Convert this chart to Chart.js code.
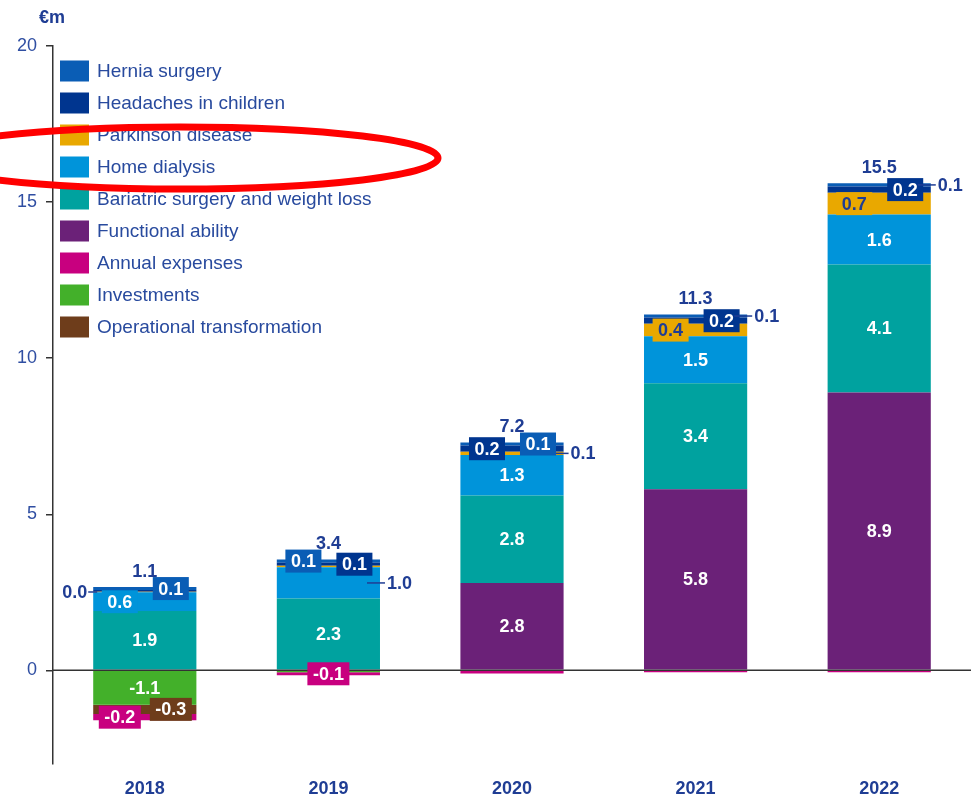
<!DOCTYPE html>
<html>
<head>
<meta charset="utf-8">
<script src="https://cdn.jsdelivr.net/npm/chart.js@4/dist/chart.umd.min.js"></script>
<style>
    html, body { margin: 0; padding: 0; background: #ffffff; }
    #chart { display: block; }
</style>
</head>
<body>
<canvas id="chart" width="971" height="796"></canvas>
<script>
// values in €m
const years = ['2018', '2019', '2020', '2021', '2022']
const hernia = [0.1, 0.1, 0.1, 0.1, 0.1]
const headaches = [0.05, 0.1, 0.2, 0.2, 0.2]
const parkinson = [0.02, 0.05, 0.1, 0.4, 0.7]
const homeDialysis = [0.6, 1.0, 1.3, 1.5, 1.6]
const bariatric = [1.9, 2.3, 2.8, 3.4, 4.1]
const functionalAbility = [0, 0, 2.8, 5.8, 8.9]
const annualExpenses = [-0.2, -0.1, -0.08, -0.06, -0.06]
const investments = [-1.1, -0.06, 0, 0, 0]
const operational = [-0.3, 0, -0.02, 0, 0]
const totals = [1.1, 3.4, 7.2, 11.3, 15.5]
const yTicks = [0, 5, 10, 15, 20]

const fontFamily = '"Liberation Sans", Arial, sans-serif'
const navy = '#1f3d94'
const tickBlue = '#2f4ea2'

// stacking order bottom -> top (positives), then negatives downwards
const series = [
    { key: 'functional', label: 'Functional ability', data: functionalAbility, color: '#6b2178' },
    { key: 'bariatric', label: 'Bariatric surgery and weight loss', data: bariatric, color: '#00a29f' },
    { key: 'homeDialysis', label: 'Home dialysis', data: homeDialysis, color: '#0094da' },
    { key: 'parkinson', label: 'Parkinson disease', data: parkinson, color: '#e9a800' },
    { key: 'headaches', label: 'Headaches in children', data: headaches, color: '#00358f' },
    { key: 'hernia', label: 'Hernia surgery', data: hernia, color: '#0a5db5' },
    { key: 'investments', label: 'Investments', data: investments, color: '#43b02a' },
    { key: 'operational', label: 'Operational transformation', data: operational, color: '#6e3d1b' },
    { key: 'annual', label: 'Annual expenses', data: annualExpenses, color: '#c8007f' },
]
const legendOrder = ['hernia', 'headaches', 'parkinson', 'homeDialysis', 'bariatric',
    'functional', 'annual', 'investments', 'operational']

// where each value label sits
const labelModes = {
    hernia: ['boxR', 'boxL', 'boxR', 'outR', 'outR'],
    headaches: [null, 'boxR', 'boxL', 'boxR', 'boxR'],
    parkinson: ['outL', null, 'outR', 'boxL', 'boxL'],
    homeDialysis: ['boxL', 'outR', 'in', 'in', 'in'],
    bariatric: ['in', 'in', 'in', 'in', 'in'],
    functional: [null, null, 'in', 'in', 'in'],
    investments: ['in', null, null, null, null],
    operational: ['boxR', null, null, null, null],
    annual: ['boxL', 'box', null, null, null],
}
const darkInk = ['parkinson']

const segmentLabels = {
    id: 'segmentLabels',
    afterDatasetsDraw(chart) {
        const ctx = chart.ctx
        const area = chart.chartArea
        const yScale = chart.scales.y
        ctx.save()

        // zero line sits over the bars
        const zeroY = yScale.getPixelForValue(0)
        ctx.strokeStyle = '#333333'
        ctx.lineWidth = 1.5
        ctx.beginPath()
        ctx.moveTo(area.left, zeroY)
        ctx.lineTo(area.right, zeroY)
        ctx.stroke()

        ctx.font = `bold 18px ${fontFamily}`
        ctx.textBaseline = 'middle'
        chart.data.datasets.forEach((ds, i) => {
            const meta = chart.getDatasetMeta(i)
            const modes = labelModes[ds.key]
            meta.data.forEach((bar, j) => {
                const mode = modes[j]
                if (!mode) return
                const { x, y, base, width } = bar.getProps(['x', 'y', 'base', 'width'], true)
                const cy = (y + base) / 2
                const left = x - width / 2
                const right = x + width / 2
                const text = ds.data[j].toFixed(1)
                const ink = darkInk.includes(ds.key) ? navy : '#ffffff'
                if (mode === 'in') {
                    ctx.fillStyle = ink
                    ctx.textAlign = 'center'
                    ctx.fillText(text, x, cy + 1)
                } else if (mode.startsWith('box')) {
                    const bx = mode === 'boxL' ? x - 25 : mode === 'boxR' ? x + 26 : x
                    const w = ctx.measureText(text).width + 11
                    ctx.fillStyle = ds.backgroundColor
                    ctx.fillRect(bx - w / 2, cy - 11.5, w, 23)
                    ctx.fillStyle = ink
                    ctx.textAlign = 'center'
                    ctx.fillText(text, bx, cy + 1)
                } else if (mode === 'outR') {
                    ctx.strokeStyle = navy
                    ctx.lineWidth = 1.5
                    ctx.beginPath()
                    ctx.moveTo(right - 13, cy)
                    ctx.lineTo(right + 5, cy)
                    ctx.stroke()
                    ctx.fillStyle = navy
                    ctx.textAlign = 'left'
                    ctx.fillText(text, right + 7, cy + 1)
                } else if (mode === 'outL') {
                    ctx.strokeStyle = navy
                    ctx.lineWidth = 1.5
                    ctx.beginPath()
                    ctx.moveTo(left - 5, cy)
                    ctx.lineTo(left + 4, cy)
                    ctx.stroke()
                    ctx.fillStyle = navy
                    ctx.textAlign = 'right'
                    ctx.fillText(text, left - 6, cy + 1)
                }
            })
        })

        // totals above each stack
        const meta0 = chart.getDatasetMeta(0)
        totals.forEach((total, j) => {
            let positive = 0
            chart.data.datasets.forEach(ds => { if (ds.data[j] > 0) positive += ds.data[j] })
            const top = yScale.getPixelForValue(positive)
            ctx.fillStyle = navy
            ctx.textAlign = 'center'
            ctx.fillText(total.toFixed(1), meta0.data[j].x, top - 15)
        })
        ctx.restore()
    },
    afterDraw(chart) {
        const ctx = chart.ctx
        const area = chart.chartArea
        ctx.save()

        // unit
        ctx.fillStyle = navy
        ctx.font = `bold 18px ${fontFamily}`
        ctx.textAlign = 'center'
        ctx.textBaseline = 'middle'
        ctx.fillText('€m', area.left - 1, area.top - 28)

        // legend
        ctx.font = `19px ${fontFamily}`
        ctx.textAlign = 'left'
        legendOrder.forEach((key, k) => {
            const ds = chart.data.datasets.find(d => d.key === key)
            const cy = area.top + 25 + k * 32
            ctx.fillStyle = ds.backgroundColor
            ctx.fillRect(area.left + 7, cy - 10.5, 29, 21)
            ctx.fillStyle = '#284a9e'
            ctx.fillText(ds.label, area.left + 44, cy + 1)
        })

        // red highlight ring
        ctx.strokeStyle = '#ff0000'
        ctx.lineWidth = 7
        ctx.beginPath()
        ctx.ellipse(180, 158, 258, 31, 0, 0, Math.PI * 2)
        ctx.stroke()
        ctx.restore()
    }
}

new Chart(document.getElementById('chart'), {
    type: 'bar',
    data: {
        labels: years,
        datasets: series.map(s => ({
            key: s.key,
            label: s.label,
            data: s.data,
            backgroundColor: s.color,
            borderWidth: 0,
            barPercentage: 0.562,
            categoryPercentage: 1,
        })),
    },
    options: {
        responsive: false,
        animation: false,
        layout: { padding: { top: 46, right: -7, bottom: 0, left: 0 } },
        plugins: {
            legend: { display: false },
            tooltip: { enabled: false },
        },
        scales: {
            x: {
                stacked: true,
                grid: { display: false },
                border: { display: false },
                ticks: {
                    color: navy,
                    font: { family: fontFamily, size: 18, weight: 'bold' },
                    padding: 6,
                },
                afterFit: scale => { scale.height = 32 },
            },
            y: {
                stacked: true,
                min: -3,
                max: 20,
                ticks: {
                    stepSize: 5,
                    color: tickBlue,
                    font: { family: fontFamily, size: 18 },
                    padding: 9,
                },
                grid: {
                    drawOnChartArea: false,
                    tickLength: 7,
                    tickColor: '#333333',
                    lineWidth: 1.5,
                },
                border: { display: true, color: '#333333', width: 1.5 },
                afterBuildTicks: scale => {
                    scale.ticks = yTicks.map(v => ({ value: v }))
                },
                afterFit: scale => { scale.width = 53 },
            },
        },
    },
    plugins: [segmentLabels],
})
</script>
</body>
</html>
